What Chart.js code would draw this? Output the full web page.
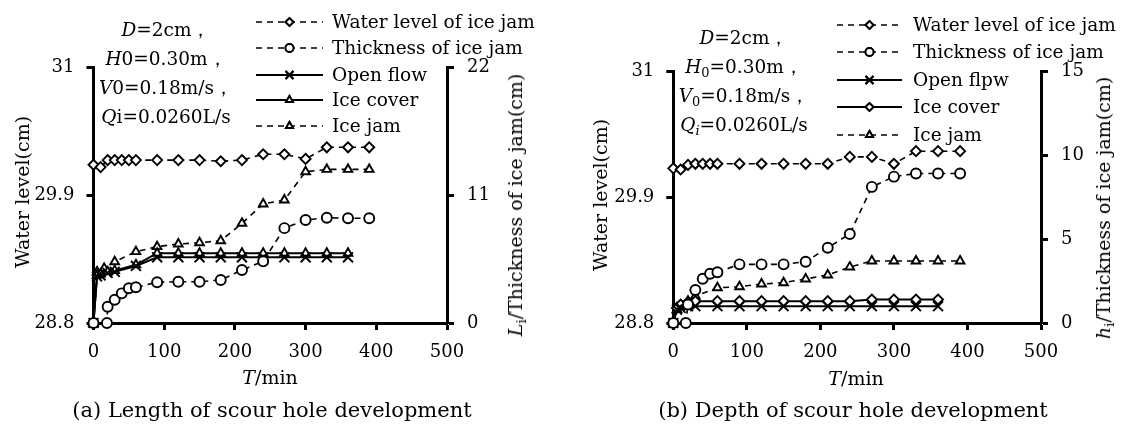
<!DOCTYPE html>
<html>
<head>
<meta charset="utf-8">
<script src="https://cdn.jsdelivr.net/npm/chart.js@4.4.1/dist/chart.umd.min.js"></script>
<style>
  body { margin: 0; background: #fff; }
  #wrap { position: relative; width: 1124px; height: 426px; font-family: "DejaVu Serif", serif; color: #000; }
  canvas { position: absolute; top: 0; }
  .txt { position: absolute; white-space: nowrap; }
  .note { text-align: center; font-size: 18.5px; line-height: 29px; transform: translateX(-50%); }
  .rot { transform: translate(-50%, -50%) rotate(-90deg); font-size: 19px; }
  .xt { transform: translate(-50%, -50%); font-size: 19px; }
  .cap { transform: translate(-50%, -50%); font-size: 21px; }
  sub { font-size: 70%; vertical-align: -0.3em; line-height: 0; }
</style>
</head>
<body>
<div id="wrap">
  <canvas id="chartA" width="562" height="426" style="left:0"></canvas>
  <canvas id="chartB" width="562" height="426" style="left:562px"></canvas>

  <div class="txt note" style="left:166px; top:15px">
    <div><i>D</i>=2cm，</div>
    <div><i>H</i>0=0.30m，</div>
    <div><i>V</i>0=0.18m/s，</div>
    <div><i>Q</i>i=0.0260L/s</div>
  </div>
  <div class="txt note" style="left:744px; top:23px">
    <div><i>D</i>=2cm，</div>
    <div><i>H</i><sub>0</sub>=0.30m，</div>
    <div><i>V</i><sub>0</sub>=0.18m/s，</div>
    <div><i>Q<sub>i</sub></i>=0.0260L/s</div>
  </div>

  <div class="txt rot" style="left:22px; top:192px">Water level(cm)</div>
  <div class="txt rot" style="left:515px; top:205px"><i>L</i><sub>i</sub>/Thickness of ice jam(cm)</div>
  <div class="txt rot" style="left:600px; top:195px">Water level(cm)</div>
  <div class="txt rot" style="left:1103px; top:208px"><i>h</i><sub>i</sub>/Thickness of ice jam(cm)</div>

  <div class="txt xt" style="left:270px; top:377px"><i>T</i>/min</div>
  <div class="txt xt" style="left:856px; top:378px"><i>T</i>/min</div>

  <div class="txt cap" style="left:272px; top:410px">(a) Length of scour hole development</div>
  <div class="txt cap" style="left:853px; top:410px">(b) Depth of scour hole development</div>
</div>

<script>
// ---- data ----
// (a) scour hole length
const timeLevelA = [0, 10, 20, 30, 40, 50, 60, 90, 120, 150, 180, 210, 240, 270, 300, 330, 360, 390];
const levelA = [30.16, 30.14, 30.20, 30.20, 30.20, 30.20, 30.20, 30.20, 30.20, 30.20, 30.19, 30.20, 30.25, 30.25, 30.21, 30.31, 30.31, 30.31];
const timeThickA = [0, 19, 20, 30, 40, 50, 60, 90, 120, 150, 180, 210, 240, 270, 300, 330, 360, 390];
const thickA = [0, 0, 1.4, 2.0, 2.55, 2.98, 3.07, 3.5, 3.55, 3.55, 3.7, 4.55, 5.3, 8.15, 8.85, 9.05, 9.0, 9.0];
const timeFlowA = [0, 5, 10, 20, 30, 60, 90, 120, 150, 180, 210, 240, 270, 300, 330, 360];
const openFlowA = [0, 4.0, 4.1, 4.3, 4.4, 4.9, 5.65, 5.65, 5.65, 5.65, 5.65, 5.65, 5.65, 5.65, 5.65, 5.65];
const iceCoverA = [0, 4.1, 4.2, 4.4, 4.5, 5.0, 6.0, 6.0, 6.0, 6.0, 6.0, 6.0, 6.0, 6.0, 6.0, 6.0];
const timeJamA = [0, 5, 15, 30, 60, 90, 120, 150, 180, 210, 240, 270, 300, 330, 360, 390];
const iceJamA = [0, 4.4, 4.7, 5.27, 6.13, 6.56, 6.79, 6.9, 7.07, 8.57, 10.23, 10.57, 13.0, 13.2, 13.2, 13.2];

// (b) scour hole depth
const timeLevelB = [0, 10, 20, 30, 40, 50, 60, 90, 120, 150, 180, 210, 240, 270, 300, 330, 360, 390];
const levelB = [30.15, 30.14, 30.18, 30.19, 30.19, 30.19, 30.19, 30.19, 30.19, 30.19, 30.19, 30.19, 30.25, 30.25, 30.19, 30.30, 30.30, 30.30];
const timeThickB = [0, 17, 20, 30, 40, 50, 60, 90, 120, 150, 180, 210, 240, 270, 300, 330, 360, 390];
const thickB = [0, 0, 1.1, 1.96, 2.63, 2.93, 3.02, 3.49, 3.49, 3.49, 3.65, 4.48, 5.3, 8.1, 8.71, 8.9, 8.9, 8.9];
const timeFlowB = [0, 5, 10, 20, 30, 60, 90, 120, 150, 180, 210, 240, 270, 300, 330, 360];
const openFlowB = [0, 0.8, 0.9, 1.0, 1.0, 1.0, 1.0, 1.0, 1.0, 1.0, 1.0, 1.0, 1.0, 1.0, 1.0, 1.0];
const iceCoverB = [0, 0.9, 1.1, 1.25, 1.3, 1.3, 1.3, 1.3, 1.3, 1.3, 1.3, 1.3, 1.4, 1.4, 1.4, 1.4];
const timeJamB = [0, 5, 10, 20, 30, 60, 90, 120, 150, 180, 210, 240, 270, 300, 330, 360, 390];
const iceJamB = [0, 0.8, 1.0, 1.3, 1.6, 2.1, 2.16, 2.32, 2.4, 2.62, 2.86, 3.33, 3.69, 3.69, 3.69, 3.69, 3.69];

const levelTicks = [28.8, 29.9, 31];

function pts(xs, ys) {
    return xs.map((x, i) => ({ x: x, y: ys[i] }));
}

function series(label, xs, ys, axis, pointStyle, dashed) {
    return {
        label: label,
        data: pts(xs, ys),
        yAxisID: axis,
        borderColor: '#000',
        borderWidth: dashed ? 1.6 : 2,
        borderDash: dashed ? [6, 5] : [],
        pointStyle: pointStyle,
        pointRadius: pointStyle === 'crossRot' ? 7 : 5,
        pointBorderWidth: 1.9,
        pointBackgroundColor: '#fff',
        pointBorderColor: '#000',
        tension: 0,
        clip: false,
    };
}

// legend drawn with the dataset's own line + marker
const sampleLegend = {
    id: 'sampleLegend',
    afterDraw(chart, args, opts) {
        const ctx = chart.ctx;
        chart.data.datasets.forEach((ds, i) => {
            const y = opts.ys[i];
            ctx.save();
            ctx.strokeStyle = '#000';
            ctx.lineWidth = ds.borderWidth;
            ctx.setLineDash(ds.borderDash);
            ctx.beginPath();
            ctx.moveTo(opts.x1, y);
            ctx.lineTo(opts.x2, y);
            ctx.stroke();
            ctx.setLineDash([]);
            ctx.lineWidth = ds.pointBorderWidth;
            Chart.helpers.drawPoint(ctx, {
                pointStyle: ds.pointStyle,
                radius: ds.pointRadius * 0.8,
                borderWidth: ds.pointBorderWidth,
                rotation: 0,
            }, (opts.x1 + opts.x2) / 2, y);
            ctx.fillStyle = '#fff';
            ctx.fill();
            ctx.stroke();
            ctx.fillStyle = '#000';
            ctx.font = '18.5px "DejaVu Serif"';
            ctx.textBaseline = 'middle';
            ctx.fillText(ds.label, opts.tx, y + 1);
            ctx.restore();
        });
    }
};

function makeChart(id, datasets, box, rightMax, rightStep, legend) {
    const tickFont = { family: 'DejaVu Serif', size: 18 };
    const axisLine = { display: true, color: '#000', width: 3 };
    const tickGrid = { drawOnChartArea: false, drawTicks: true, tickLength: 7, tickWidth: 3, tickColor: '#000' };
    return new Chart(document.getElementById(id), {
        type: 'line',
        data: { datasets: datasets },
        options: {
            responsive: false,
            animation: false,
            layout: { padding: { top: box.top, left: 0, right: 0, bottom: 0 } },
            plugins: {
                legend: { display: false },
                tooltip: { enabled: false },
                sampleLegend: legend,
            },
            scales: {
                x: {
                    type: 'linear', min: 0, max: 500,
                    ticks: { stepSize: 100, font: tickFont, color: '#000', padding: 12, maxRotation: 0 },
                    grid: tickGrid, border: axisLine,
                    afterFit: (s) => { s.height = 426 - box.bottom; },
                },
                yL: {
                    position: 'left', min: 28.8, max: 31,
                    afterBuildTicks: (s) => { s.ticks = levelTicks.map(v => ({ value: v })); },
                    ticks: { font: tickFont, color: '#000', padding: 12 },
                    grid: tickGrid, border: axisLine,
                    afterFit: (s) => { s.width = box.left; },
                },
                yR: {
                    position: 'right', min: 0, max: rightMax,
                    ticks: { stepSize: rightStep, font: tickFont, color: '#000', padding: 13 },
                    grid: tickGrid, border: axisLine,
                    afterFit: (s) => { s.width = 562 - box.right; },
                },
            },
        },
        plugins: [sampleLegend],
    });
}

makeChart('chartA', [
    series('Water level of ice jam', timeLevelA, levelA, 'yL', 'rectRot', true),
    series('Thickness of ice jam', timeThickA, thickA, 'yR', 'circle', true),
    series('Open flow', timeFlowA, openFlowA, 'yR', 'crossRot', false),
    series('Ice cover', timeFlowA, iceCoverA, 'yR', 'triangle', false),
    series('Ice jam', timeJamA, iceJamA, 'yR', 'triangle', true),
], { left: 93.5, right: 447, top: 67, bottom: 323 }, 22, 11,
   { x1: 256, x2: 323, tx: 332, ys: [22, 48, 75, 100, 126] });

makeChart('chartB', [
    series('Water level of ice jam', timeLevelB, levelB, 'yL', 'rectRot', true),
    series('Thickness of ice jam', timeThickB, thickB, 'yR', 'circle', true),
    series('Open flpw', timeFlowB, openFlowB, 'yR', 'crossRot', false),
    series('Ice cover', timeFlowB, iceCoverB, 'yR', 'rectRot', false),
    series('Ice jam', timeJamB, iceJamB, 'yR', 'triangle', true),
], { left: 111.3, right: 479, top: 71, bottom: 323 }, 15, 5,
   { x1: 275, x2: 340, tx: 351, ys: [25, 52, 80, 107, 135] });
</script>
</body>
</html>
